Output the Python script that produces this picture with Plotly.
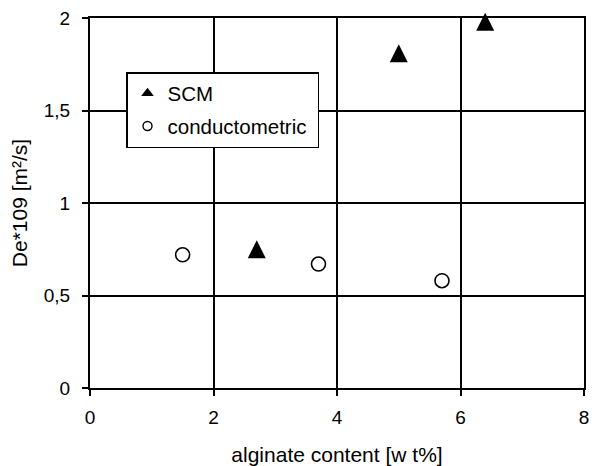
import plotly.graph_objects as go

scm_x = [2.7, 5.0, 6.4]
scm_y = [0.75, 1.81, 1.98]
cond_x = [1.5, 3.7, 5.7]
cond_y = [0.72, 0.67, 0.58]

x_ticks = [0, 2, 4, 6, 8]
y_ticks = [0, 0.5, 1, 1.5, 2]
y_ticktext = ["0", "0,5", "1", "1,5", "2"]

FONT = "Liberation Sans, Arial, sans-serif"
TICK_FS = 19
TITLE_FS = 21
LEG_FS = 20.5

fig = go.Figure()
# data marks (up-pointing triangle, centred on the data point)
fig.add_trace(go.Scatter(
    x=scm_x, y=scm_y, mode="markers", name="SCM", showlegend=False,
    marker=dict(symbol="arrow-down", angle=180, size=18, standoff=9, color="black",
                line=dict(width=0)),
    cliponaxis=False,
))
fig.add_trace(go.Scatter(
    x=cond_x, y=cond_y, mode="markers", name="conductometric", showlegend=False,
    marker=dict(symbol="circle-open", size=14, color="black",
                line=dict(width=1.6, color="black")),
    cliponaxis=False,
))
# legend entries (smaller legend symbols as in the reference)
fig.add_trace(go.Scatter(
    x=[None], y=[None], mode="markers", name="SCM", legendgroup="a",
    marker=dict(symbol="triangle-up", size=11, color="black", line=dict(width=0)),
))
fig.add_trace(go.Scatter(
    x=[None], y=[None], mode="markers", name="conductometric\u00a0", legendgroup="b",
    marker=dict(symbol="circle-open", size=9, color="black",
                line=dict(width=1.4, color="black")),
))

axis_common = dict(
    showgrid=True, gridcolor="black", gridwidth=2,
    showline=True, linecolor="black", linewidth=2, mirror=True,
    ticks="outside", ticklen=6, tickwidth=2, tickcolor="black",
    zeroline=False, automargin=False, ticklabeloverflow="allow",
    tickfont=dict(family=FONT, size=TICK_FS, color="black"),
)

fig.update_xaxes(
    range=[0, 8], tickvals=x_ticks, ticktext=[str(v) for v in x_ticks],
    ticklabelstandoff=5,
    title=dict(text="alginate content [w t%]", font=dict(family=FONT, size=TITLE_FS, color="black"), standoff=22),
    **axis_common,
)
fig.update_yaxes(
    range=[0, 2], tickvals=y_ticks, ticktext=y_ticktext,
    ticklabelstandoff=8,
    title=dict(text="De*109 [m²/s]", font=dict(family=FONT, size=TITLE_FS, color="black"), standoff=10),
    **axis_common,
)

fig.update_layout(
    width=594, height=466,
    margin=dict(l=90, r=10, t=18, b=78),
    paper_bgcolor="white", plot_bgcolor="white",
    font=dict(family=FONT, size=LEG_FS, color="black"),
    showlegend=True,
    hovermode=False,
    legend=dict(
        x=(126 - 90) / 494, y=(388 - 72) / 370, xanchor="left", yanchor="top",
        bgcolor="white", bordercolor="black", borderwidth=1.5,
        font=dict(family=FONT, size=LEG_FS, color="black"),
        itemwidth=30, traceorder="grouped", tracegroupgap=3,
    ),
)

fig.write_html(
    "out.html",
    config={"displayModeBar": False},
    post_script="document.body.style.margin='0';document.body.style.overflow='hidden';",
)
